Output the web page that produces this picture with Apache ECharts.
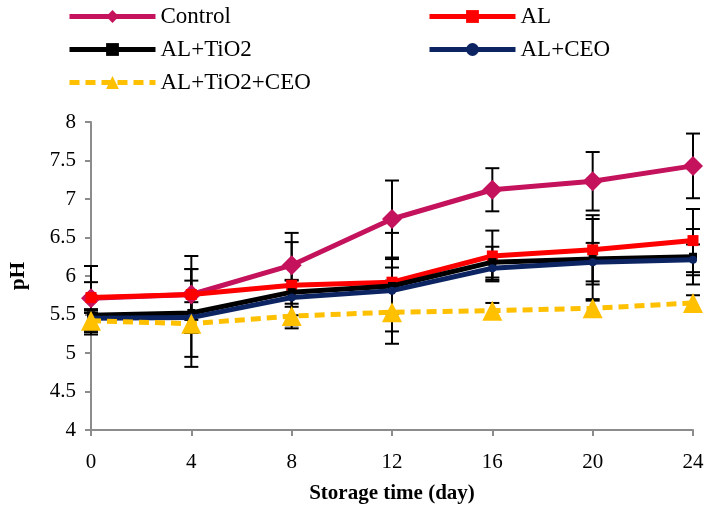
<!DOCTYPE html>
<html lang="en">
<head>
    <meta charset="utf-8">
    <script src="https://cdn.jsdelivr.net/npm/echarts@6/dist/echarts.min.js"></script>
    <style>
        html,
        body {
            margin: 0;
            width: 100%;
            height: 100%;
            background: #fff;
            overflow: hidden;
        }

        #chart {
            width: 709px;
            height: 510px;
        }
    </style>
</head>
<body>
<div id="chart"></div>
<script>
    // storage days
    var days = [0, 4, 8, 12, 16, 20, 24];
    var yTicks = ['4', '4.5', '5', '5.5', '6', '6.5', '7', '7.5', '8'];

    // pH means and error bar half-widths
    var control = [5.71, 5.76, 6.14, 6.74, 7.12, 7.23, 7.43];
    var controlErr = [0.42, 0.50, 0.42, 0.50, 0.28, 0.38, 0.42];
    var al = [5.72, 5.76, 5.88, 5.92, 6.26, 6.34, 6.46];
    var alErr = [0.20, 0.33, 0.56, 0.64, 0.33, 0.45, 0.41];
    var alTio2 = [5.49, 5.52, 5.79, 5.87, 6.18, 6.22, 6.25];
    var alTio2Err = [0.25, 0.57, 0.15, 0.35, 0.20, 0.52, 0.36];
    var alCeo = [5.45, 5.46, 5.72, 5.81, 6.10, 6.18, 6.21];
    var alCeoErr = [0.10, 0.20, 0.23, 0.30, 0.15, 0.25, 0.20];
    var alTio2Ceo = [5.42, 5.38, 5.48, 5.53, 5.55, 5.58, 5.65];
    var alTio2CeoErr = [0.15, 0.56, 0.12, 0.41, 0.10, 0.10, 0.10];

    var font = 'Liberation Serif';

    var groups = [
        {name: 'Control', data: control, err: controlErr, color: '#C4135C', symbol: 'diamond', size: 20, dash: 'solid'},
        {name: 'AL', data: al, err: alErr, color: '#FF0000', symbol: 'rect', size: 11, dash: 'solid'},
        {name: 'AL+TiO2', data: alTio2, err: alTio2Err, color: '#000000', symbol: 'rect', size: 8, dash: 'solid'},
        {name: 'AL+CEO', data: alCeo, err: alCeoErr, color: '#0C2462', symbol: 'circle', size: 8, dash: 'solid'},
        {name: 'AL+TiO2+CEO', data: alTio2Ceo, err: alTio2CeoErr, color: '#FFC000', symbol: 'triangle', size: 20, dash: [10, 6]}
    ];

    // legend slots: [left, top]
    var legendPos = [[62, 0], [422, 0], [62, 33], [422, 33], [62, 66]];

    var chart = echarts.init(document.getElementById('chart'));

    var series = [];
    var legends = [];
    groups.forEach(function (g, i) {
        // error bars
        series.push({
            type: 'custom',
            name: g.name + ' err',
            z: 1,
            silent: true,
            data: days.map(function (d, k) {
                return [d, g.data[k] - g.err[k], g.data[k] + g.err[k]];
            }),
            renderItem: function (params, api) {
                var lo = api.coord([api.value(0), api.value(1)]);
                var hi = api.coord([api.value(0), api.value(2)]);
                var w = 7;
                var st = {stroke: '#000', lineWidth: 2};
                return {
                    type: 'group',
                    children: [
                        {type: 'line', shape: {x1: lo[0], y1: lo[1], x2: hi[0], y2: hi[1]}, style: st},
                        {type: 'line', shape: {x1: lo[0] - w, y1: lo[1], x2: lo[0] + w, y2: lo[1]}, style: st},
                        {type: 'line', shape: {x1: hi[0] - w, y1: hi[1], x2: hi[0] + w, y2: hi[1]}, style: st}
                    ]
                };
            }
        });
        series.push({
            type: 'line',
            name: g.name,
            z: 2 + i,
            data: days.map(function (d, k) { return [d, g.data[k]]; }),
            symbol: g.symbol,
            symbolSize: g.size,
            showAllSymbol: true,
            lineStyle: {color: g.color, width: 5, type: g.dash},
            itemStyle: {color: g.color},
            animation: false
        });
        legends.push({
            left: legendPos[i][0],
            top: legendPos[i][1],
            data: [g.name],
            itemWidth: 86,
            itemHeight: 16,
            itemGap: 0,
            lineStyle: {width: 5},
            textStyle: {fontFamily: font, fontSize: 23, color: '#000'}
        });
    });

    chart.setOption({
        animation: false,
        legend: legends,
        grid: {left: 89, right: 16, top: 122, bottom: 80},
        xAxis: {
            type: 'value',
            min: 0,
            max: 24,
            interval: 4,
            name: 'Storage time (day)',
            nameLocation: 'middle',
            nameGap: 53,
            nameTextStyle: {fontFamily: font, fontSize: 21, fontWeight: 'bold', color: '#000'},
            axisLine: {lineStyle: {color: '#8c8c8c', width: 2}},
            axisTick: {show: true, length: 6, lineStyle: {color: '#8c8c8c', width: 2}},
            axisLabel: {fontFamily: font, fontSize: 21, color: '#000', margin: 22},
            splitLine: {show: false}
        },
        yAxis: {
            type: 'value',
            min: 4,
            max: 8,
            interval: 0.5,
            name: 'pH',
            nameLocation: 'middle',
            nameGap: 62,
            nameRotate: 90,
            nameTextStyle: {fontFamily: font, fontSize: 21, fontWeight: 'bold', color: '#000'},
            axisLine: {show: true, lineStyle: {color: '#8c8c8c', width: 2}},
            axisTick: {show: true, length: 6, lineStyle: {color: '#8c8c8c', width: 2}},
            axisLabel: {
                fontFamily: font, fontSize: 21, color: '#000', margin: 15,
                formatter: function (v) {
                    var idx = Math.round((v - 4) / 0.5);
                    return yTicks[idx];
                }
            },
            splitLine: {show: false}
        },
        series: series
    });
</script>
</body>
</html>
